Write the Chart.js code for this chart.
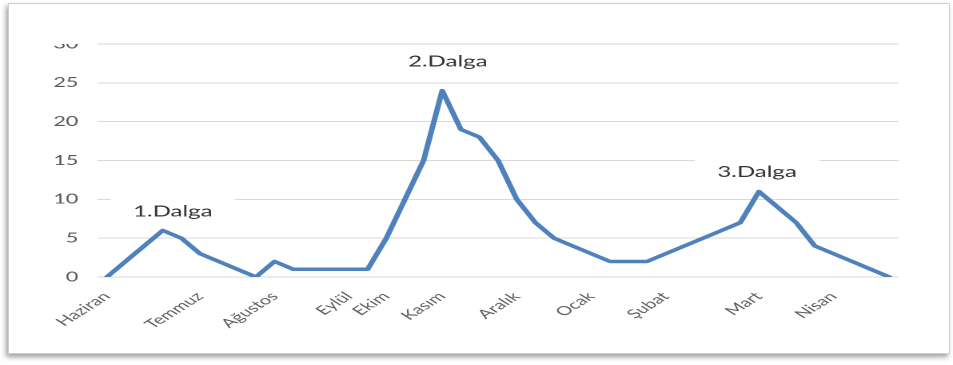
<!DOCTYPE html>
<html lang="tr">
<head>
<meta charset="utf-8">
<title>Dalgalar</title>
<script src="https://cdn.jsdelivr.net/npm/chart.js@4.4.1/dist/chart.umd.min.js"></script>
<style>
  html, body { margin: 0; padding: 0; background: #ffffff; }
  body { width: 953px; height: 365px; position: relative; overflow: hidden; }
  #frame {
    position: absolute; left: 8px; top: 3px; width: 940px; height: 349px;
    border: 1px solid #cfcfcf;
    box-shadow: -2px 3px 5px rgba(0,0,0,0.38);
    background: #ffffff;
  }
  #wrap {
    position: absolute; left: 0; top: 0; width: 596px; height: 365px;
    transform-origin: 0 0;
    transform: scaleX(1.599);
  }
</style>
</head>
<body>
<div id="frame"></div>
<div id="wrap"><canvas id="chart" width="596" height="365"></canvas></div>
<script>
// Weekly counts, June through April
const values = [
  0, 2, 4, 6, 5, 3, 2, 1, 0, 2,
  1, 1, 1, 1, 1, 5, 10, 15, 24, 19,
  18, 15, 10, 7, 5, 4, 3, 2, 2, 2,
  3, 4, 5, 6, 7, 11, 9, 7, 4, 3,
  2, 1, 0
];

// Month names and the week each one is written under
const monthNames = ['Haziran', 'Temmuz', 'Ağustos', 'Eylül', 'Ekim', 'Kasım', 'Aralık', 'Ocak', 'Şubat', 'Mart', 'Nisan'];
const monthWeek  = [0, 5, 9, 13, 15, 18, 22, 26, 30, 35, 39];

// Y axis ticks
const yTicks = [0, 5, 10, 15, 20, 25, 30];

// Wave captions
const waveNames = ['1.Dalga', '2.Dalga', '3.Dalga'];

const labels = values.map(() => '');
monthNames.forEach((m, k) => { labels[monthWeek[k]] = m; });

const FONT = 'Lato, "Open Sans", "Liberation Sans", sans-serif';

// Caption placement (category position, value level)
const waveSpots = [
  { x: 3.54, y: 8.4 },
  { x: 18.3, y: 27.7 },
  { x: 34.9, y: 13.5 }
];

const wavePlugin = {
  id: 'waves',
  beforeDatasetsDraw(chart) {
    const { ctx, scales } = chart;
    ctx.save();
    ctx.fillStyle = '#ffffff';
    waveSpots.forEach(s => {
      const cx = scales.x.getPixelForValue(s.x);
      const cy = scales.y.getPixelForValue(s.y);
      ctx.fillRect(cx - 39, cy - 14, 78, 28);
    });
    ctx.restore();
  },
  afterDatasetsDraw(chart) {
    const { ctx, scales } = chart;
    ctx.save();
    ctx.font = '15px ' + FONT;
    ctx.fillStyle = '#333333';
    ctx.textAlign = 'center';
    ctx.textBaseline = 'middle';
    waveSpots.forEach((s, k) => {
      ctx.fillText(waveNames[k], scales.x.getPixelForValue(s.x), scales.y.getPixelForValue(s.y));
    });
    ctx.restore();
  },
  afterDraw(chart) {
    // the top tick label sits half under the plot's upper edge
    const { ctx, chartArea } = chart;
    ctx.save();
    ctx.fillStyle = '#ffffff';
    ctx.fillRect(12, 12, chartArea.left - 15, chartArea.top - 12);
    ctx.restore();
  }
};

new Chart(document.getElementById('chart'), {
  type: 'line',
  data: {
    labels: labels,
    datasets: [{
      data: values,
      borderColor: '#4f81bd',
      borderWidth: 3.5,
      tension: 0,
      pointRadius: 0,
      pointHoverRadius: 0,
      borderJoinStyle: 'round',
      borderCapStyle: 'round',
      fill: false
    }]
  },
  options: {
    responsive: false,
    animation: false,
    devicePixelRatio: 2,
    layout: { padding: { left: 0, right: 34, top: 44, bottom: 0 } },
    plugins: { legend: { display: false }, tooltip: { enabled: false } },
    scales: {
      x: {
        offset: true,
        grid: { display: false },
        border: { display: false },
        ticks: {
          autoSkip: false,
          minRotation: 45,
          maxRotation: 45,
          padding: 4,
          color: '#5f5f5f',
          font: { family: FONT, size: 12.5 }
        },
        afterFit(scale) { scale.height = 88; }
      },
      y: {
        min: 0,
        max: 30,
        afterBuildTicks(scale) { scale.ticks = yTicks.map(v => ({ value: v })); },
        grid: { color: '#d9d9d9', lineWidth: 1, drawTicks: false },
        border: { display: false },
        ticks: {
          padding: 12,
          color: '#595959',
          font: { family: FONT, size: 13.5 }
        },
        afterFit(scale) { scale.width = 61; }
      }
    }
  },
  plugins: [wavePlugin]
});
</script>
</body>
</html>
